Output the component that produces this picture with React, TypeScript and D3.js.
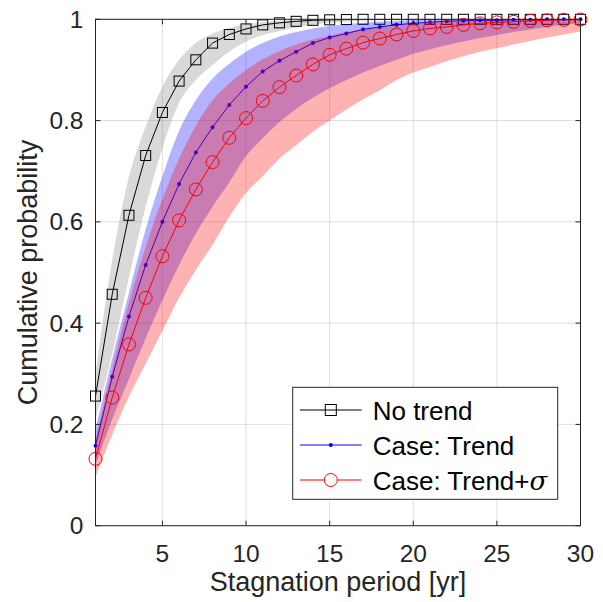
import React from "react";
import * as d3 from "d3";

const xs = d3.range(1, 31);

const noTrend = [0.256, 0.457, 0.613, 0.731, 0.816, 0.878, 0.92, 0.953, 0.97, 0.981, 0.989, 0.993, 0.996, 0.998, 0.999, 0.9995, 1, 1, 1, 1, 1, 1, 1, 1, 1, 1, 1, 1, 1, 1];
const noTrendLow = [0.21, 0.34, 0.49, 0.63, 0.745, 0.835, 0.88, 0.91, 0.936, 0.956, 0.969, 0.977, 0.984, 0.989, 0.993, 0.995, 0.997, 0.998, 0.999, 0.999, 1, 1, 1, 1, 1, 1, 1, 1, 1, 1];
const noTrendHigh = [0.3, 0.525, 0.689, 0.788, 0.867, 0.92, 0.953, 0.972, 0.983, 0.99, 0.994, 0.997, 0.998, 0.999, 1, 1, 1, 1, 1, 1, 1, 1, 1, 1, 1, 1, 1, 1, 1, 1];

const trend = [0.158, 0.294, 0.413, 0.515, 0.6, 0.675, 0.737, 0.787, 0.831, 0.867, 0.897, 0.918, 0.936, 0.953, 0.964, 0.972, 0.98, 0.985, 0.989, 0.992, 0.994, 0.996, 0.997, 0.998, 0.998, 0.999, 0.999, 1, 1, 1];
const trendLow = [0.12, 0.21, 0.29, 0.37, 0.445, 0.515, 0.577, 0.63, 0.678, 0.73, 0.765, 0.797, 0.823, 0.845, 0.864, 0.88, 0.895, 0.908, 0.92, 0.932, 0.941, 0.949, 0.956, 0.963, 0.969, 0.975, 0.98, 0.985, 0.989, 0.992];
const trendHigh = [0.19, 0.33, 0.46, 0.585, 0.69, 0.78, 0.84, 0.883, 0.912, 0.936, 0.953, 0.966, 0.975, 0.982, 0.987, 0.99, 0.993, 0.995, 0.997, 0.998, 0.999, 0.999, 1, 1, 1, 1, 1, 1, 1, 1];

const trendSigma = [0.132, 0.253, 0.358, 0.45, 0.532, 0.603, 0.664, 0.718, 0.766, 0.805, 0.839, 0.866, 0.889, 0.911, 0.93, 0.942, 0.954, 0.962, 0.97, 0.977, 0.982, 0.985, 0.989, 0.992, 0.994, 0.995, 0.997, 0.998, 0.999, 0.9995];
const trendSigmaLow = [0.097, 0.18, 0.255, 0.32, 0.385, 0.45, 0.505, 0.555, 0.61, 0.657, 0.69, 0.725, 0.752, 0.778, 0.8, 0.822, 0.842, 0.86, 0.88, 0.895, 0.906, 0.917, 0.927, 0.936, 0.943, 0.95, 0.957, 0.964, 0.97, 0.976];
const trendSigmaHigh = [0.17, 0.31, 0.44, 0.55, 0.645, 0.725, 0.79, 0.84, 0.873, 0.9, 0.921, 0.937, 0.95, 0.96, 0.968, 0.975, 0.98, 0.984, 0.987, 0.99, 0.992, 0.994, 0.995, 0.996, 0.997, 0.998, 0.998, 0.999, 0.999, 1];

const xTicks = [5, 10, 15, 20, 25, 30];
const yTicks = [0, 0.2, 0.4, 0.6, 0.8, 1];
const yTickLabels = ["0", "0.2", "0.4", "0.6", "0.8", "1"];
const legendLabels = ["No trend", "Case: Trend", "Case: Trend+"];

const W = 603, H = 602;
const L = 95.5, R = 580.5, T = 19.3, B = 525.7;
const FONT = "'Liberation Sans', Arial, Helvetica, sans-serif";
const AX = "#262626";

export default function App() {
  const x = d3.scaleLinear().domain([1, 30]).range([L, R]);
  const y = d3.scaleLinear().domain([0, 1]).range([B, T]);

  const band = (lo: number[], hi: number[]) =>
    d3.area<number>().x((i) => x(xs[i])).y0((i) => y(lo[i])).y1((i) => y(hi[i])).curve(d3.curveMonotoneX)(d3.range(xs.length)) || "";
  const line = (v: number[]) =>
    d3.line<number>().x((i) => x(xs[i])).y((i) => y(v[i]))(d3.range(xs.length)) || "";

  const idx = d3.range(xs.length);
  const legX0 = 292.7, legY0 = 387.3, legW = 265, legH = 112;
  const entryY = [410, 445, 480];
  const lx1 = 300, lx2 = 361.7, lmx = 330.8, tx = 372.7;

  return (
    <svg width={W} height={H} style={{ position: "absolute", left: 0, top: 0, background: "#fff" }} fontFamily={FONT}>
      <rect x={0} y={0} width={W} height={H} fill="#fff" />
      <defs>
        <clipPath id="plotclip">
          <rect x={L} y={T} width={R - L} height={B - T} />
        </clipPath>
      </defs>
      {/* grid */}
      {xTicks.map((t) => (
        <line key={"gx" + t} x1={x(t)} x2={x(t)} y1={T} y2={B} stroke={AX} strokeOpacity={0.15} strokeWidth={1} />
      ))}
      {yTicks.map((t) => (
        <line key={"gy" + t} x1={L} x2={R} y1={y(t)} y2={y(t)} stroke={AX} strokeOpacity={0.15} strokeWidth={1} />
      ))}
      <g clipPath="url(#plotclip)">
        <path d={band(noTrendLow, noTrendHigh)} fill="#808080" fillOpacity={0.3} />
        <path d={line(noTrend)} fill="none" stroke="#000" strokeWidth={1} />
      </g>
      {idx.map((i) => (
        <rect key={"sq" + i} x={x(xs[i]) - 5} y={y(noTrend[i]) - 5} width={10} height={10} fill="none" stroke="#000" strokeWidth={1} />
      ))}
      <g clipPath="url(#plotclip)">
        <path d={band(trendLow, trendHigh)} fill="#0000ff" fillOpacity={0.3} />
        <path d={line(trend)} fill="none" stroke="#0000ff" strokeWidth={1} />
      </g>
      {idx.map((i) => (
        <circle key={"dt" + i} cx={x(xs[i])} cy={y(trend[i])} r={2} fill="#0000ff" />
      ))}
      <g clipPath="url(#plotclip)">
        <path d={band(trendSigmaLow, trendSigmaHigh)} fill="#ff0000" fillOpacity={0.3} />
        <path d={line(trendSigma)} fill="none" stroke="#ff0000" strokeWidth={1} />
      </g>
      {idx.map((i) => (
        <circle key={"ci" + i} cx={x(xs[i])} cy={y(trendSigma[i])} r={6.5} fill="none" stroke="#ff0000" strokeWidth={1} />
      ))}
      {/* axes box */}
      <rect x={L} y={T} width={R - L} height={B - T} fill="none" stroke={AX} strokeWidth={1} />
      {xTicks.map((t) => (
        <g key={"xt" + t}>
          <line x1={x(t)} x2={x(t)} y1={B} y2={B - 5} stroke={AX} />
          <line x1={x(t)} x2={x(t)} y1={T} y2={T + 5} stroke={AX} />
          <text x={x(t)} y={B + 36} textAnchor="middle" fontSize={24.5} fill={AX}>{t}</text>
        </g>
      ))}
      {yTicks.map((t, i) => (
        <g key={"yt" + t}>
          <line x1={L} x2={L + 5} y1={y(t)} y2={y(t)} stroke={AX} />
          <line x1={R} x2={R - 5} y1={y(t)} y2={y(t)} stroke={AX} />
          <text x={L - 12} y={y(t) + 8.5} textAnchor="end" fontSize={24.5} fill={AX}>{yTickLabels[i]}</text>
        </g>
      ))}
      <text x={(L + R) / 2} y={591} textAnchor="middle" fontSize={27} fill={AX}>Stagnation period [yr]</text>
      <text transform={`translate(37, ${(T + B) / 2}) rotate(-90)`} textAnchor="middle" fontSize={27} fill={AX}>Cumulative probability</text>
      {/* legend */}
      <rect x={legX0} y={legY0} width={legW} height={legH} fill="#fff" stroke={AX} strokeWidth={1} />
      <line x1={lx1} x2={lx2} y1={entryY[0]} y2={entryY[0]} stroke="#000" />
      <rect x={lmx - 5.5} y={entryY[0] - 5.5} width={11} height={11} fill="none" stroke="#000" />
      <line x1={lx1} x2={lx2} y1={entryY[1]} y2={entryY[1]} stroke="#0000ff" />
      <circle cx={lmx} cy={entryY[1]} r={2} fill="#0000ff" />
      <line x1={lx1} x2={lx2} y1={entryY[2]} y2={entryY[2]} stroke="#ff0000" />
      <circle cx={lmx} cy={entryY[2]} r={6.5} fill="#fff" stroke="#ff0000" />
      {legendLabels.map((s, i) => (
        <text key={"lg" + i} x={tx} y={entryY[i] + 9.5} fontSize={26} fill="#000">
          {s}
          {i === 2 ? <tspan fontStyle="italic" fontFamily="'DejaVu Serif', serif">σ</tspan> : null}
        </text>
      ))}
    </svg>
  );
}
